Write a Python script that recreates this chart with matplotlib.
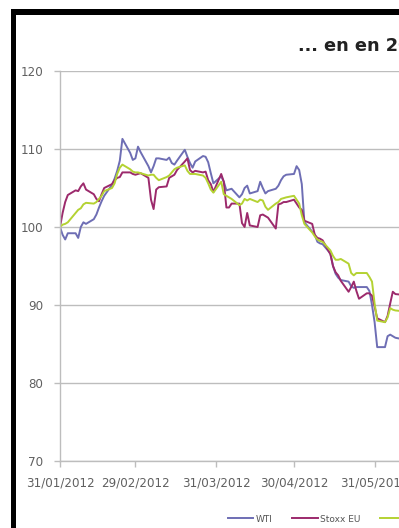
import matplotlib
matplotlib.use("Agg")
import matplotlib.pyplot as plt
import matplotlib.dates as mdates
import pandas as pd
from matplotlib.patches import Rectangle

plt.rcParams['font.family'] = ['DejaVu Sans']

dates = pd.bdate_range("2012-01-31", "2012-06-11")

wti = [100.0, 99.0, 98.4, 99.2, 99.2, 98.6, 100.0, 100.6, 100.4, 101.0,
       101.6, 102.5, 103.3, 104.0, 105.4, 106.2, 107.2, 108.5, 111.3, 109.5,
       108.6, 108.8, 110.3, 109.6, 107.8, 107.0, 107.8, 108.8, 108.8, 108.6,
       108.9, 108.2, 108.0, 108.5, 109.9, 109.0, 108.2, 107.6, 108.4, 109.1,
       109.0, 108.3, 106.9, 105.6, 106.5, 105.8, 104.7, 104.8, 104.9, 103.8,
       104.2, 105.0, 105.3, 104.3, 104.6, 105.8, 105.0, 104.3, 104.6, 104.9,
       105.3, 106.0, 106.5, 106.7, 106.8, 107.8, 107.3, 105.5, 100.6, 99.4,
       99.0, 98.1, 97.9, 97.8, 96.6, 95.0, 94.0, 93.5, 93.2, 93.0,
       92.4, 92.2, 92.3, 92.3, 92.3, 91.8, 90.0, 87.8, 84.6, 84.6,
       86.0, 86.2, 86.0, 85.8, 85.6]

stoxx_eu = [100.0, 101.8, 103.2, 104.1, 104.7, 104.6, 105.2, 105.6, 104.8, 104.2,
            103.6, 103.3, 104.2, 105.0, 105.5, 106.0, 106.3, 106.4, 107.0, 107.0,
            106.8, 106.7, 106.8, 106.9, 106.3, 103.5, 102.3, 104.8, 105.1, 105.2,
            106.3, 106.5, 106.7, 107.3, 108.4, 108.8, 107.3, 107.0, 107.2, 107.0,
            107.1, 106.0, 105.5, 104.5, 106.8, 105.8, 102.5, 102.5, 103.0, 103.0,
            100.5, 100.0, 101.8, 100.2, 100.0, 101.5, 101.6, 101.4, 101.2, 99.8,
            102.9, 103.0, 103.2, 103.2, 103.5, 103.0, 102.5, 102.2, 100.8, 100.4,
            99.0, 98.6, 98.5, 98.3, 96.5, 95.0, 94.2, 93.8, 93.1, 91.7,
            92.3, 93.0, 91.8, 90.8, 91.5, 91.5, 91.2, 89.8, 88.3, 87.8,
            88.6, 90.2, 91.7, 91.4, 91.3]

stoxx_us = [100.0, 100.3, 100.4, 100.6, 101.8, 102.2, 102.4, 102.9, 103.1, 103.0,
            103.2, 103.6, 104.0, 104.6, 105.0, 105.6, 106.8, 107.6, 108.0, 107.4,
            107.1, 107.0, 107.0, 106.9, 106.6, 106.7, 106.7, 106.3, 106.0, 106.4,
            106.6, 107.0, 107.4, 107.6, 107.9, 107.2, 106.8, 106.8, 106.8, 106.6,
            106.3, 105.6, 104.8, 104.4, 105.8, 104.2, 104.0, 103.8, 103.6, 102.8,
            103.0, 103.6, 103.4, 103.6, 103.2, 103.5, 103.4, 102.6, 102.2, 103.0,
            103.2, 103.6, 103.7, 103.8, 104.0, 103.5, 103.0, 101.5, 100.4, 99.3,
            98.8, 98.4, 98.2, 98.1, 97.0, 96.3, 95.8, 95.8, 95.9, 95.3,
            94.1, 93.8, 94.1, 94.1, 94.1, 93.6, 93.0, 90.2, 88.0, 87.8,
            88.4, 89.6, 89.4, 89.3, 89.2]

series_names = ["WTI", "Stoxx EU", "Stoxx US"]
series_colors = ["#6e6eb4", "#9c2a6c", "#b4d232"]
tick_dates = ["2012-01-31", "2012-02-29", "2012-03-31", "2012-04-30", "2012-05-31"]
y_ticks = [70, 80, 90, 100, 110, 120]
title_text = "... en en 2012"

W, H = 399, 528
fig = plt.figure(figsize=(W / 100, H / 100), dpi=100)
fig.patch.set_facecolor("white")

# black frame (left and top edges visible)
fig.add_artist(Rectangle((11 / W, 0), 5 / W, (H - 9) / H, transform=fig.transFigure,
                         facecolor="black", edgecolor="none", zorder=0))
fig.add_artist(Rectangle((11 / W, (H - 15) / H), (W - 11) / W, 6 / H, transform=fig.transFigure,
                         facecolor="black", edgecolor="none", zorder=0))

left, right, top, bottom = 60, W, 71, 461
ax = fig.add_axes([left / W, (H - bottom) / H, (right - left) / W, (bottom - top) / H])
ax.set_facecolor("none")

for vals, name, col in zip([wti, stoxx_eu, stoxx_us], series_names, series_colors):
    ax.plot(dates[:len(vals)], vals, color=col, lw=1.4, label=name)

start = pd.Timestamp("2012-01-31")
ax.set_xlim(start, start + pd.Timedelta(days=(right - left) / 2.6))
ax.set_ylim(70, 120)
ax.set_yticks(y_ticks)
ax.set_xticks(pd.to_datetime(tick_dates))
ax.xaxis.set_major_formatter(mdates.DateFormatter("%d/%m/%Y"))
ax.grid(axis="y", color="#bdbdbd", lw=1.0)
ax.set_axisbelow(True)
for s in ["top", "right"]:
    ax.spines[s].set_visible(False)
for s in ["left", "bottom"]:
    ax.spines[s].set_color("#bdbdbd")
    ax.spines[s].set_linewidth(1.0)
ax.tick_params(axis="both", colors="#bdbdbd", labelcolor="#606060", labelsize=8.6, length=4, width=1)
ax.tick_params(axis="x", pad=7)
ax.tick_params(axis="y", pad=8)

fig.text(298 / W, 1 - 46 / H, title_text, fontsize=12.8, fontweight="bold",
         color="#222222", ha="left", va="center")

leg = fig.legend(loc="center left", bbox_to_anchor=(228 / W, 1 - 519 / H), ncol=3,
                 frameon=False, fontsize=6.5, handlelength=2.8, handletextpad=0.25,
                 columnspacing=2.2, borderaxespad=0, borderpad=0)
for t in leg.get_texts():
    t.set_color("#555555")

fig.savefig("out.png", dpi=100, facecolor="white")
